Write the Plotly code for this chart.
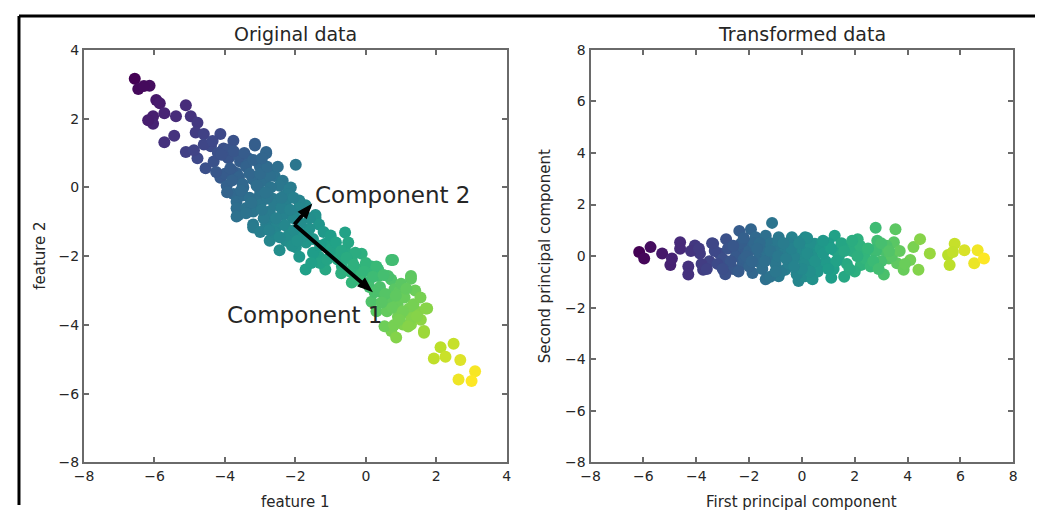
import numpy as np
import plotly.graph_objects as go

# ---------------- data ----------------
# Original data (feature 1, feature 2)
orig_x = [-6.56, -6.46, -6.14, -6.30, -5.95, -5.85, -5.72, -6.04, -6.04, -6.18, -5.39, -5.11, -4.97,
          -4.78, -4.83, -4.60, -5.44, -5.72, -4.13, -3.76, -3.15, -2.83, -1.99, -5.11, -4.78,
          -4.55, -4.32, -4.04, -3.90, -3.57, -3.34, -3.01, -2.69, -4.13, -3.95, -3.76, -3.48,
          -3.20, -2.87, -2.59, -2.36, -2.13, -2.31, -1.89, -1.71, -3.67, -3.62, -3.11, -2.83,
          -2.50, -3.20, -2.64, -2.08, -1.43,
          -4.88, -3.94, -3.15, -2.83, -4.13, -3.67, -3.20, -2.73, -2.45, -2.17, -3.94, -3.48,
          -3.01, -2.64, -2.27, -1.89, -3.67, -3.20, -2.73, -2.36, -3.67, -1.43, -1.33, -3.20,
          -2.83, -2.55, -2.73, -2.27, -2.45, -1.99, -1.89, -1.71, -1.33, -1.15, -0.59, -0.96,
          -0.87, -0.59, -0.40, -0.68, -1.15, -0.22, 0.16, 0.72, 0.35, 0.72, 1.28, 0.07, -0.40,
          0.53, 0.16, 0.81, 1.00, 1.46, 1.74, 1.28, 1.65, 0.72,
          -0.12, 0.77, 0.35, 0.63, 1.28, 0.95, 0.44, 0.58, 1.23, 1.70, 0.91, 1.56, 1.05, 0.53,
          0.86, 1.65, 2.12, 2.49, 1.93, 2.26, 2.68, 3.10, 2.63, 3.00,
          -4.40, -4.20, -3.90, -3.60, -3.40, -3.80, -4.00, -3.60, -3.30, -3.00, -2.80, -2.50,
          -2.70, -3.00, -3.30, -3.40, -3.00, -2.60, -2.20, -1.90, -2.00, -2.30, -2.60, -2.90,
          -3.00, -2.20, -1.90, -1.60, -1.70, -1.50, -1.20, -1.00, -1.30, -0.80, -0.50, -0.30,
          -0.70, 0.00, 0.30, -0.20, 0.10, 0.40, 0.70, 0.30, 0.60, 0.90, 1.10, 1.00, 1.40, 1.30,
          0.80, -2.40, -2.80, -3.50, -1.60, -2.10, -1.00,
          -4.60, -4.35, -4.10, -3.75, -3.45, -3.20, -2.95, -3.10, -2.85, -3.55, -3.80, -3.25,
          -2.40, -2.05, -2.55, -2.75, -2.45, -2.05, -1.85, -1.75, -1.95, -1.50, -1.30, -1.55,
          -1.10, -0.85, -0.70, -0.55, -0.35, -0.05, -0.45, 0.20, 0.50, -0.10, 0.25, 0.55,
          0.85, 0.45, 0.75, 1.05, 1.35, 1.15, 0.95, 1.20, 1.45, 1.55, -3.40, -2.95, -2.15,
          -3.85, -4.25]
orig_y = [3.16, 2.86, 2.96, 2.95, 2.54, 2.45, 2.16, 2.07, 1.85, 1.95, 2.07, 2.39, 2.07,
          1.88, 1.60, 1.55, 1.50, 1.31, 1.55, 1.36, 1.27, 1.03, 0.66, 1.03, 0.85,
          0.56, 0.75, 1.13, 0.85, 0.75, 0.85, 0.61, 0.47, 0.28, 0.05, -0.19, 0.00,
          0.24, 0.19, 0.33, 0.19, 0.00, -0.24, -0.38, -0.52, -0.42, -0.80, -0.47, -0.33,
          -0.52, -1.08, -0.89, -0.89, -0.80,
          1.08, 0.89, 1.22, 0.99, 0.33, 0.42, 0.24, 0.33, 0.05, -0.05, -0.14, -0.23,
          -0.23, -0.33, -0.42, -0.42, -0.61, -0.70, -0.70, -0.80, -0.85, -0.89, -1.08, -1.17,
          -1.08, -1.17, -1.55, -1.55, -1.83, -1.74, -2.02, -2.39, -2.02, -1.64, -1.31, -1.55,
          -1.92, -1.83, -2.11, -2.30, -2.39, -2.39, -2.30, -2.11, -2.58, -2.68, -2.58, -2.77, -2.77,
          -3.15, -3.33, -2.96, -3.71, -3.62, -3.52, -3.99, -4.18, -4.18,
          -1.93, -2.11, -2.39, -2.58, -2.66, -3.01, -3.05, -3.33, -3.52, -3.52, -3.76, -3.85, -3.99, -4.04,
          -4.37, -4.23, -4.65, -4.55, -4.98, -4.93, -5.02, -5.35, -5.59, -5.63,
          1.20, 1.00, 1.10, 0.90, 0.60, 0.50, 0.40, 0.30, 0.40, 0.40, 0.60, 0.60,
          0.00, -0.10, -0.30, -0.60, -0.50, -0.50, -0.20, -0.60, -0.90, -1.10, -1.30, -0.90,
          -1.30, -1.40, -1.30, -1.20, -1.60, -1.90, -1.30, -1.80, -2.20, -2.10, -1.60, -1.90,
          -2.50, -2.20, -2.30, -2.60, -2.90, -2.90, -3.20, -3.60, -3.60, -3.40, -3.20, -2.80, -3.00, -3.80,
          -4.00, -0.60, -0.30, 0.10, -0.90, -1.70, -1.40,
          1.25, 1.35, 0.95, 1.05, 1.00, 0.80, 0.85, 0.05, -0.15, -0.10, 0.20, -0.45,
          -0.30, -0.30, -0.90, -1.25, -1.45, -1.25, -1.05, -1.40, -1.55, -1.50, -1.70, -2.20,
          -2.10, -1.60, -1.85, -2.05, -2.25, -2.45, -2.45, -2.60, -2.55, -2.75, -3.05, -3.10,
          -3.15, -3.35, -3.50, -3.60, -3.40, -2.95, -3.85, -4.05, -3.75, -3.20, -0.75, -0.65, -0.65,
          0.55, 0.45]

# Transformed data (first / second principal component)
pca_x = [-6.16, -5.97, -5.73, -5.29, -4.98, -4.92, -4.61, -4.30, -4.30, -4.05, -3.86, -3.74,
         -3.36, -3.12, -2.87, -2.87, -2.37, -1.93, -1.13, -2.37, -2.00, -1.75, -1.37, -0.88,
         -0.38, 0.12, -2.24, -1.87, -1.37, -0.88, -0.63, -0.13, -1.62, -1.13, -0.63, -0.13,
         0.37, 0.37, -4.61,
         -0.01, 0.12, 0.12, 0.49, 0.62, 1.24, 1.24, 1.11, 1.74, 2.11, 2.36, 2.23, 2.79, 2.85,
         2.67, 3.10, 3.54, 3.48, 3.29, 3.10, 3.60, 3.85, 4.22, 4.47, 4.10, 4.41, 4.84, 5.53,
         5.78, 6.15, 5.59, 6.52, 6.65, 6.89, 5.71,
         -3.50, -3.30, -3.00, -2.80, -2.60, -2.50, -2.30, -2.20, -2.00, -2.00, -1.80, -1.70,
         -1.50, -1.50, -1.30, -1.20, -1.00, -1.00, -0.80, -0.70, -0.50, -0.50, -0.30, -0.20,
         0.00, 0.10, 0.30, 0.40, 0.60, 0.70, 0.90, 1.00, 1.20, 1.40, 1.50, 1.70, 1.90, 2.00,
         2.20, 2.40, 2.60, 2.80, 3.00, 3.20, 3.40, 3.70, 3.90, -0.90, 0.20, -3.80, -4.20,
         -2.90, -1.20, 0.40, 1.60,
         -3.90, -3.60, -3.40, -3.20, -2.70, -2.60, -2.40, -2.10, -1.90, -1.60, -1.40, -1.20,
         -0.90, -0.60, -0.40, -0.10, 0.20, 0.50, 0.80, 1.10, 1.30, 1.60, 1.80, 2.10,
         2.50, 2.70, 3.00, 3.30, -1.00, 0.30, 2.90, -0.70, 1.90, -2.20, 0.80, -3.00,
         0.00, 1.00, -1.70, -0.30]
pca_y = [0.16, -0.09, 0.35, 0.10, -0.34, -0.09, 0.54, -0.40, -0.71, 0.41, 0.10, -0.53,
         0.48, 0.10, 0.66, -0.34, 0.98, 1.04, 1.29, 0.23, 0.48, 0.73, 0.79, 0.73,
         0.73, 0.73, -0.28, -0.65, -0.90, -0.78, -0.53, -0.96, 0.10, -0.03, 0.23, -0.03,
         -0.40, 0.23, 0.29,
         0.60, -0.03, -0.78, 0.48, -0.40, 0.79, 0.23, -0.84, 0.35, 0.66, 0.23, -0.34, 1.10, 0.60,
         0.23, 0.23, 1.04, 0.54, -0.09, -0.71, -0.28, -0.53, 0.35, 0.66, -0.15, -0.53, 0.10, 0.04,
         0.48, 0.23, -0.34, -0.28, 0.23, -0.09, 0.16,
         -0.20, 0.20, -0.10, 0.30, -0.50, 0.00, 0.50, -0.10, 0.20, -0.40, 0.50, -0.20,
         0.30, -0.50, 0.00, 0.50, -0.30, 0.30, -0.60, 0.10, 0.50, -0.30, 0.00, -0.70,
         0.30, -0.30, 0.50, 0.00, -0.60, 0.30, -0.20, 0.50, -0.50, 0.00, 0.50, -0.30, 0.20, -0.60,
         0.40, -0.10, -0.40, 0.20, -0.20, 0.40, 0.00, 0.20, -0.30, 0.60, 0.70, -0.30, 0.20,
         -0.70, -0.80, -0.90, -0.80,
         0.30, -0.50, 0.50, -0.30, -0.20, 0.40, -0.60, 0.00, -0.20, 0.50, -0.20, 0.20,
         0.00, -0.10, 0.30, 0.50, 0.10, -0.20, 0.10, 0.30, -0.20, 0.20, -0.50, 0.00,
         0.30, -0.20, 0.50, 0.20, -0.60, -0.60, -0.50, 0.50, 0.60, 0.70, 0.60, -0.50,
         -0.50, -0.50, 0.30, -0.40]

# principal component arrows (start = mean, visual tips)
pca_mean = [-2.03, -1.08]
comp1_tip = [0.20, -3.05]
comp2_tip = [-1.52, -0.47]

# tick labels
left_ticks = [-8, -6, -4, -2, 0, 2, 4]
right_ticks = [-8, -6, -4, -2, 0, 2, 4, 6, 8]


def lab(v):
    return ("\u2212" + str(-v)) if v < 0 else str(v)


# ---------------- figure ----------------
# The page body keeps its default 8px margin, so the figure is 16px smaller
# than the window and every reference pixel position is shifted by 8px.
OFF = 8
W, H = 1048 - 2 * OFF, 521 - 2 * OFF


def PX(x):
    return (x - OFF) / W


def PY(y):
    return 1 - (y - OFF) / H


FONT = "DejaVu Sans"
AX = "#6a6a6a"
TXT = "#262626"

ox = np.array(orig_x)
oy = np.array(orig_y)
d1 = np.array(comp1_tip) - np.array(pca_mean)
u1 = d1 / np.hypot(*d1)
orig_c = (ox - pca_mean[0]) * u1[0] + (oy - pca_mean[1]) * u1[1]

fig = go.Figure()
fig.add_trace(go.Scatter(
    x=orig_x, y=orig_y, mode="markers", xaxis="x", yaxis="y",
    marker=dict(size=12, color=orig_c, colorscale="Viridis",
                cmin=orig_c.min(), cmax=orig_c.max(), line=dict(width=0)),
    hoverinfo="skip", showlegend=False))
fig.add_trace(go.Scatter(
    x=pca_x, y=pca_y, mode="markers", xaxis="x2", yaxis="y2",
    marker=dict(size=12, color=pca_x, colorscale="Viridis",
                cmin=min(pca_x), cmax=max(pca_x), line=dict(width=0)),
    hoverinfo="skip", showlegend=False))


def arrow_polygon(start, tip, shaft_w=0.11, head_w=0.34, head_l=0.45):
    s = np.array(start, float)
    t = np.array(tip, float)
    d = t - s
    u = d / np.hypot(*d)
    n = np.array([-u[1], u[0]])
    b = t - u * head_l
    pts = [s + n * shaft_w / 2, b + n * shaft_w / 2, b + n * head_w / 2, t,
           b - n * head_w / 2, b - n * shaft_w / 2, s - n * shaft_w / 2, s + n * shaft_w / 2]
    return [p[0] for p in pts], [p[1] for p in pts]


for tip in (comp1_tip, comp2_tip):
    ax_, ay_ = arrow_polygon(pca_mean, tip)
    fig.add_trace(go.Scatter(x=ax_, y=ay_, mode="lines", fill="toself",
                             fillcolor="black", line=dict(width=0, color="black"),
                             xaxis="x", yaxis="y", hoverinfo="skip", showlegend=False))

L0, L1 = PX(75), PX(504)
R0, R1 = PX(589), PX(1018)
B, T = PY(469), PY(43)

axis_common = dict(showline=True, linecolor=AX, linewidth=2, mirror="ticks",
                   ticks="inside", ticklen=5, tickwidth=1.5, tickcolor=AX,
                   showgrid=False, zeroline=False,
                   tickfont=dict(family=FONT, size=14, color=TXT), fixedrange=True)

fig.update_layout(
    width=W, height=H, margin=dict(l=0, r=0, t=0, b=0),
    paper_bgcolor="white", plot_bgcolor="white",
    xaxis=dict(domain=[L0, L1], range=[-8, 4], anchor="y",
               tickvals=left_ticks, ticktext=[lab(v) for v in left_ticks], **axis_common),
    yaxis=dict(domain=[B, T], range=[-8, 4], anchor="x",
               tickvals=left_ticks, ticktext=[lab(v) for v in left_ticks], **axis_common),
    xaxis2=dict(domain=[R0, R1], range=[-8, 8], anchor="y2",
                tickvals=right_ticks, ticktext=[lab(v) for v in right_ticks], **axis_common),
    yaxis2=dict(domain=[B, T], range=[-8, 8], anchor="x2",
                tickvals=right_ticks, ticktext=[lab(v) for v in right_ticks], **axis_common),
    showlegend=False,
)

ann = []


def txt(s, x, y, size, angle=0, xref="paper", yref="paper", xa="center", ya="middle", ys=0):
    ann.append(dict(text=s, x=x, y=y, xref=xref, yref=yref, xanchor=xa, yanchor=ya,
                    showarrow=False, textangle=angle, yshift=ys,
                    font=dict(family=FONT, size=size, color=TXT)))


txt("Original data", (L0 + L1) / 2, PY(27), 19)
txt("Transformed data", (R0 + R1) / 2, PY(27), 19)
txt("feature 1", (L0 + L1) / 2, PY(510), 15)
txt("First principal component", (R0 + R1) / 2, PY(510), 15)
txt("feature 2", PX(30), (B + T) / 2, 15, angle=-90)
txt("Second principal component", PX(543), (B + T) / 2, 15, angle=-90)
txt("Component 2", -1.5, -0.5, 23, xref="x", yref="y", xa="left", ya="bottom", ys=-5)
txt("Component 1", -4, -4, 23, xref="x", yref="y", xa="left", ya="bottom", ys=-5)
fig.update_layout(annotations=ann)

# screenshot frame (top and left edges)
fx, fy = PX(9), PY(8)
fig.update_layout(shapes=[
    dict(type="line", xref="paper", yref="paper", x0=fx, y0=fy, x1=1, y1=fy,
         line=dict(color="black", width=3)),
    dict(type="line", xref="paper", yref="paper", x0=fx, y0=0, x1=fx, y1=fy,
         line=dict(color="black", width=3)),
])

fig.write_html("out.html", config={"displayModeBar": False})
